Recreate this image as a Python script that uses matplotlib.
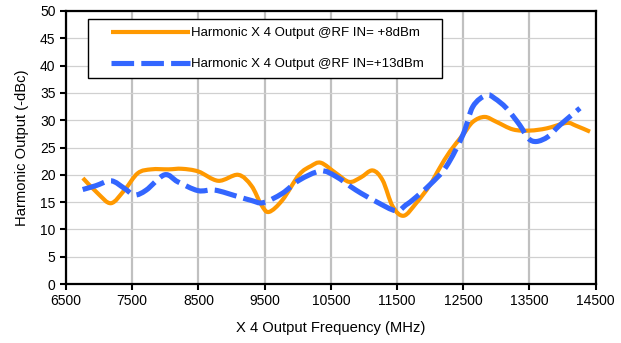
import matplotlib
matplotlib.use("Agg")
import numpy as np
import matplotlib.pyplot as plt
from matplotlib.path import Path
from matplotlib.patches import PathPatch
from matplotlib.legend_handler import HandlerLine2D

plt.rcParams['font.family'] = ['Liberation Sans', 'DejaVu Sans']

# Data
freq_8dbm = [6755, 6980, 7180, 7383, 7585, 7790, 8050, 8250, 8500, 8800, 9100, 9300,
             9450, 9565, 9770, 10020, 10200, 10350, 10576, 10777, 10950, 11130, 11282,
             11434, 11600, 11788, 11990, 12141, 12300, 12494, 12645, 12823, 13000,
             13252, 13505, 13758, 14061, 14200, 14414]
harm_8dbm = [19.4, 16.6, 14.8, 17.2, 20.3, 21.0, 21.0, 21.1, 20.6, 18.9, 20.0, 18.0,
             14.5, 13.2, 15.4, 20.0, 21.6, 22.2, 20.3, 18.7, 19.5, 20.8, 19.0,
             14.2, 12.5, 14.8, 18.0, 21.2, 24.3, 27.3, 29.7, 30.6, 29.7,
             28.3, 28.1, 28.5, 29.5, 29.0, 27.9]

freq_13dbm = [6752, 6950, 7182, 7383, 7535, 7712, 7989, 8191, 8494, 8747, 9100, 9300,
              9480, 9767, 10020, 10348, 10576, 10879, 11182, 11485, 11636, 11737, 11989,
              12242, 12494, 12645, 12848, 12974, 13152, 13353, 13479, 13606, 13782,
              13959, 14262]
harm_13dbm = [17.3, 18.0, 18.9, 17.5, 16.3, 17.2, 20.0, 18.7, 17.1, 17.2, 16.0, 15.3,
              14.9, 16.6, 19.0, 20.7, 19.7, 17.2, 15.1, 13.4, 14.5, 15.4, 18.1,
              21.5, 27.3, 32.5, 34.6, 34.0, 32.2, 29.1, 26.7, 26.1, 27.0,
              29.1, 32.2]

labels = ["Harmonic X 4 Output @RF IN= +8dBm", "Harmonic X 4 Output @RF IN=+13dBm"]
x_ticks = [6500, 7500, 8500, 9500, 10500, 11500, 12500, 13500, 14500]
y_ticks = list(range(0, 51, 5))


def smooth_path(xs, ys):
    """Excel-style smoothed line: cubic Bezier segments through the data points."""
    p = np.column_stack([xs, ys]).astype(float)
    n = len(p)
    verts = [p[0]]
    codes = [Path.MOVETO]
    for i in range(n - 1):
        p0 = p[i - 1] if i > 0 else p[i]
        p1, p2 = p[i], p[i + 1]
        p3 = p[i + 2] if i + 2 < n else p[i + 1]
        c1 = p1 + (p2 - p0) / 6.0
        c2 = p2 - (p3 - p1) / 6.0
        verts += [c1, c2, p2]
        codes += [Path.CURVE4] * 3
    return Path(verts, codes)


fig = plt.figure(figsize=(6.21, 3.43), dpi=100)
ax = fig.add_axes([66/621, 1-284/343, (595.7-66)/621, (284-11)/343])

style8 = dict(color='#FF9900', lw=3.0)
style13 = dict(color='#3366FF', lw=3.7, ls=(0, (4.4, 1.4)))

ax.add_patch(PathPatch(smooth_path(freq_8dbm, harm_8dbm), fill=False,
                       edgecolor=style8['color'], lw=style8['lw'],
                       joinstyle='round', capstyle='butt', zorder=3))
ax.add_patch(PathPatch(smooth_path(freq_13dbm, harm_13dbm), fill=False,
                       edgecolor=style13['color'], lw=style13['lw'], linestyle=style13['ls'],
                       joinstyle='round', capstyle='butt', zorder=4))
# legend entries
h8, = ax.plot([], [], label=labels[0], solid_capstyle='butt', **style8)
h13, = ax.plot([], [], label=labels[1], dash_capstyle='butt', **style13)

ax.set_xlim(6500, 14500)
ax.set_ylim(0, 50)
ax.set_xticks(x_ticks)
ax.set_yticks(y_ticks)
ax.tick_params(axis='both', labelsize=10, direction='out', length=4, width=1.5, colors='black')
ax.xaxis.grid(True, color='#c0c0c0', lw=1.6)
ax.yaxis.grid(True, color='#d0d0d0', lw=0.9)
ax.set_axisbelow(True)
for s in ax.spines.values():
    s.set_linewidth(1.6)
    s.set_color('black')

ax.set_xlabel("X 4 Output Frequency (MHz)", fontsize=10.6, labelpad=9)
ax.set_ylabel("Harmonic Output (-dBc)", fontsize=10.6, labelpad=8)

x0 = (88.3-66)/529.7
x1 = (442.3-66)/529.7
ytop = (284-19.3)/273
leg = ax.legend(handles=[h8, h13], loc='upper left', bbox_to_anchor=(x0, 0, x1-x0, ytop),
                mode='expand', borderaxespad=0, fontsize=9.5, frameon=True, fancybox=False,
                edgecolor='black', framealpha=1, handlelength=7.08, handletextpad=0.12,
                labelspacing=1.4, borderpad=0.6,
                handler_map={h8: HandlerLine2D(xpad=1.11), h13: HandlerLine2D(xpad=1.11)})
leg.get_frame().set_linewidth(1.0)

fig.savefig("out.png", dpi=100)
